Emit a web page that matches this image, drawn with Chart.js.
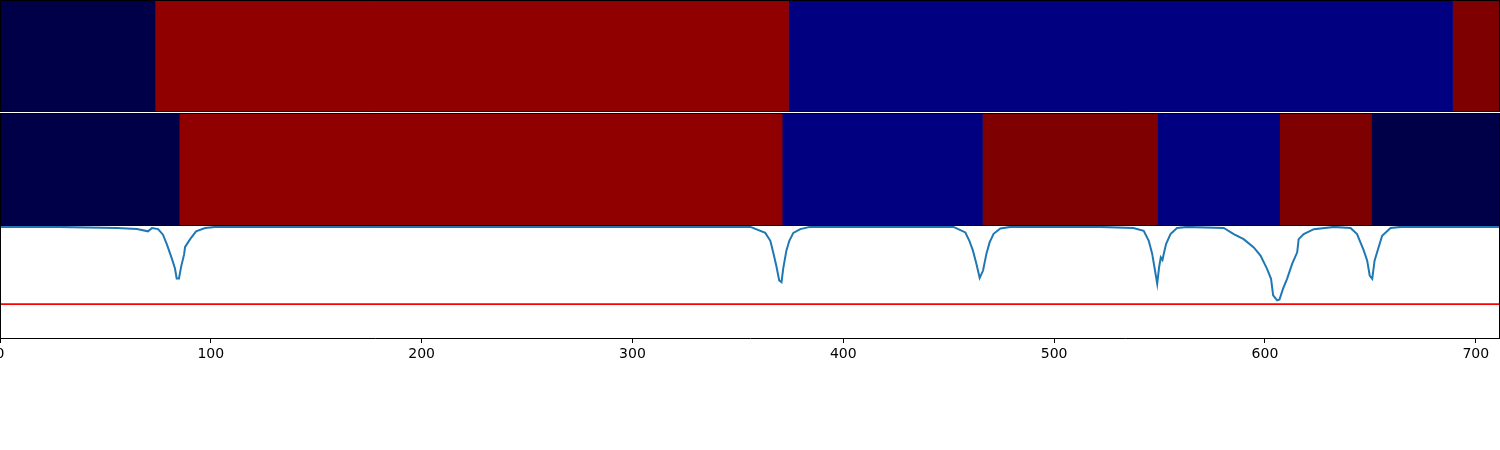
<!DOCTYPE html>
<html>
<head>
<meta charset="utf-8">
<script src="https://cdn.jsdelivr.net/npm/chart.js@4.4.0/dist/chart.umd.min.js"></script>
<style>
  html, body { margin: 0; padding: 0; background: #ffffff; }
  body { width: 1500px; height: 450px; position: relative; overflow: hidden; }
  .panel { position: absolute; left: 0; width: 1500px; }
</style>
</head>
<body>
<div class="panel" style="top:0px;height:112px"><canvas id="row1Chart"></canvas></div>
<div class="panel" style="top:113px;height:113px"><canvas id="row2Chart"></canvas></div>
<div class="panel" style="top:226px;height:224px"><canvas id="lineChart"></canvas></div>
<script>
// x range shared by all three panels
var xMin = 0;
var xMax = 711.5;
var xTicks = [0, 100, 200, 300, 400, 500, 600, 700];

// segment rows: edges along x and the state of each segment
var row1Edges = [0, 73.5, 374, 689, 711.5];
var row1States = [0, 3, 1, 4];
var row2Edges = [0, 85, 371, 466, 549, 607, 650.5, 711.5];
var row2States = [0, 3, 1, 4, 1, 4, 0];

// line panel
var lineX = [0, 28, 55.5, 65, 70.2, 72.1, 75, 77.3, 79.2, 81.6, 83, 83.8, 84.9, 85.9, 87.3, 87.8, 90.2, 93, 97.3, 102,
  355.9, 363, 365.4, 366.8, 368.2, 369.6, 370.7, 371.5, 373, 374.4, 376.3, 379.6, 384.3,
  452.2, 457.9, 459.8, 461.5, 463.1, 464.7, 466.3, 467.9, 469.4, 471.3, 474.5, 479.2,
  521.9, 537.6, 542.5, 544.9, 546.5, 547.6, 548.9, 549.8, 550.6, 551.4, 552, 553.1, 555.2, 558.3, 563.1,
  580.5, 585.2, 589.9, 594.7, 597.9, 601, 602.9, 603.9, 605.8, 606.9, 608.6, 610.5, 612.9, 615.3, 616, 618.4, 623.2, 632.7,
  640.6, 643.7, 646.9, 648.5, 649.7, 650.9, 652, 653.2, 655.6, 659.6, 664.3, 711.5];
var lineY = [1.0, 1.0, 0.99, 0.98, 0.96, 0.99, 0.98, 0.93, 0.84, 0.71, 0.625, 0.536, 0.536, 0.64, 0.75, 0.82, 0.89, 0.96, 0.99, 1.0,
  1.0, 0.946, 0.875, 0.768, 0.652, 0.518, 0.503, 0.625, 0.786, 0.875, 0.946, 0.98, 1.0,
  1.0, 0.95, 0.875, 0.786, 0.67, 0.54, 0.607, 0.759, 0.86, 0.9375, 0.985, 1.0,
  1.0, 0.99, 0.964, 0.875, 0.759, 0.637, 0.488, 0.637, 0.726, 0.703, 0.756, 0.846, 0.935, 0.99, 1.0,
  0.99, 0.935, 0.89, 0.815, 0.741, 0.622, 0.533, 0.384, 0.339, 0.346, 0.444, 0.533, 0.667, 0.771, 0.89, 0.935, 0.979, 1.0,
  0.99, 0.935, 0.786, 0.696, 0.5625, 0.533, 0.696, 0.771, 0.92, 0.99, 1.0, 1.0];
var thresholdValue = 0.304;

// colours for the segment states (seismic-like)
var statePalette = ["#000048", "#000080", "#2020ff", "#900000", "#7e0000"];

// draws a black frame round the plot area
var framePlugin = {
  id: "frame",
  afterDatasetsDraw: function (chart, args, opts) {
    var a = chart.chartArea;
    var c = chart.ctx;
    c.save();
    c.strokeStyle = "#000000";
    c.lineWidth = 1;
    c.beginPath();
    var l = Math.round(a.left) + 0.5;
    var r = Math.round(a.right) - 0.5;
    var t = Math.round(a.top) + 0.5;
    var b = Math.round(a.bottom) - 0.5;
    if (opts.top) { c.moveTo(l, t); c.lineTo(r, t); }
    if (opts.bottom) { c.moveTo(l, b); c.lineTo(r, b); }
    c.moveTo(l, t - 0.5); c.lineTo(l, b + 0.5);
    c.moveTo(r, t - 0.5); c.lineTo(r, b + 0.5);
    c.stroke();
    c.restore();
  },
};

function segmentDatasets(edges, states) {
  var sets = [];
  for (var i = 0; i < states.length; i++) {
    sets.push({
      data: [[edges[i], edges[i + 1]]],
      backgroundColor: statePalette[states[i]],
      borderWidth: 0,
      grouped: false,
      barPercentage: 1,
      categoryPercentage: 1,
    });
  }
  return sets;
}

function makeRowChart(id, edges, states) {
  var ctx = document.getElementById(id).getContext("2d");
  return new Chart(ctx, {
    type: "bar",
    data: { labels: [""], datasets: segmentDatasets(edges, states) },
    options: {
      indexAxis: "y",
      responsive: true,
      maintainAspectRatio: false,
      animation: false,
      layout: { padding: 0 },
      plugins: { legend: { display: false }, tooltip: { enabled: false }, frame: { top: true, bottom: true } },
      scales: {
        x: { type: "linear", min: xMin, max: xMax, display: false },
        y: { display: false },
      },
    },
    plugins: [framePlugin],
  });
}

document.addEventListener("DOMContentLoaded", function () {
  makeRowChart("row1Chart", row1Edges, row1States);
  makeRowChart("row2Chart", row2Edges, row2States);

  var points = lineX.map(function (x, i) {
    return { x: x, y: lineY[i] };
  });

  var ctx = document.getElementById("lineChart").getContext("2d");
  var lineChart = new Chart(ctx, {
    type: "line",
    data: {
      datasets: [
        {
          data: points,
          borderColor: "#1f77b4",
          borderWidth: 2,
          pointRadius: 0,
          tension: 0,
          fill: false,
        },
        {
          data: [{ x: xMin, y: thresholdValue }, { x: xMax, y: thresholdValue }],
          borderColor: "#ff0000",
          borderWidth: 1.8,
          pointRadius: 0,
          fill: false,
        },
      ],
    },
    options: {
      responsive: true,
      maintainAspectRatio: false,
      animation: false,
      layout: { padding: 0 },
      plugins: { legend: { display: false }, tooltip: { enabled: false }, frame: { top: false, bottom: false } },
      scales: {
        x: {
          type: "linear",
          min: xMin,
          max: xMax,
          afterBuildTicks: function (scale) {
            scale.ticks = xTicks.map(function (v) { return { value: v }; });
          },
          afterFit: function (scale) {
            scale.paddingLeft = 0;
            scale.paddingRight = 0;
            scale.height = 112;
          },
          grid: { display: true, drawOnChartArea: false, drawTicks: true, tickLength: 5, color: "#000000" },
          border: { display: true, color: "#000000", width: 1 },
          ticks: {
            color: "#000000",
            padding: 3,
            maxRotation: 0,
            autoSkip: false,
            font: { family: "DejaVu Sans", size: 14 },
          },
        },
        y: { min: 0, max: 1.008, display: false },
      },
    },
    plugins: [framePlugin],
  });
});
</script>
</body>
</html>
